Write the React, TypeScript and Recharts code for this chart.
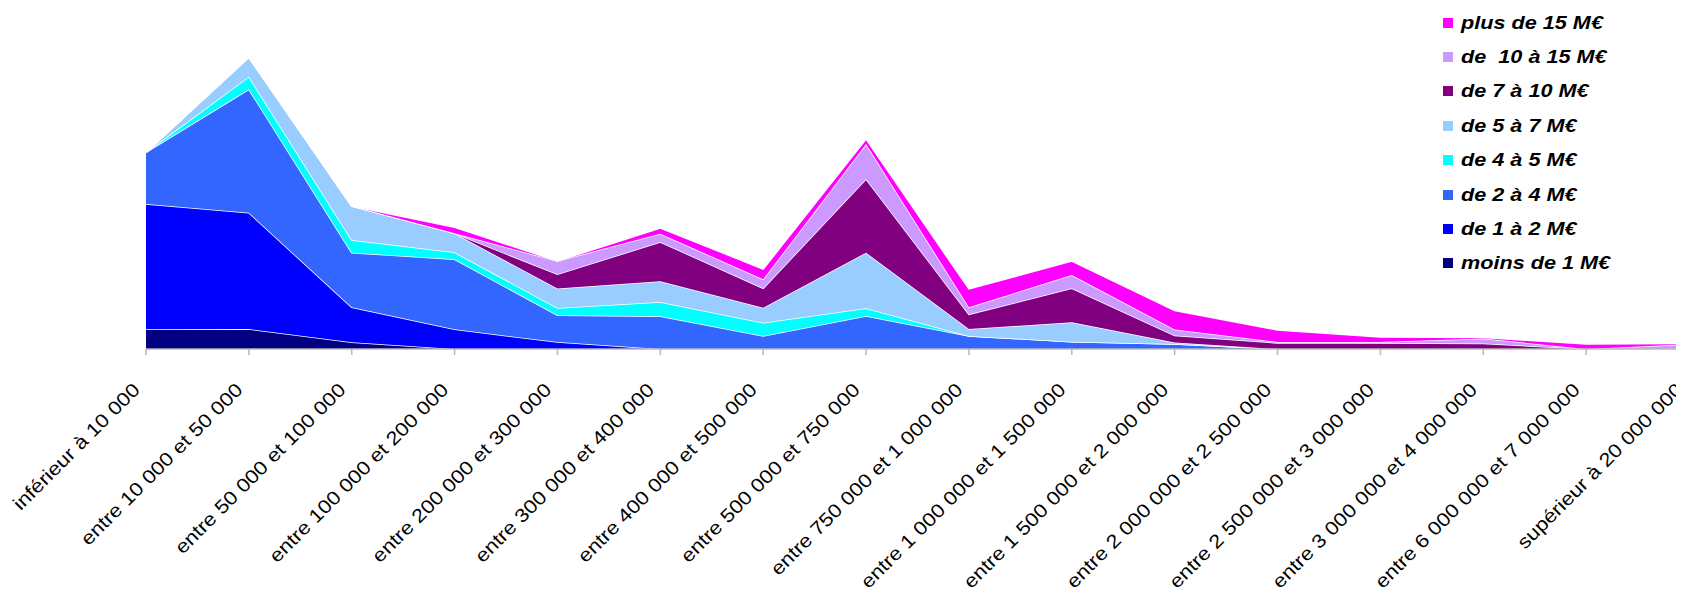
import React from 'react';
import { AreaChart, Area, XAxis, YAxis } from 'recharts';

const categories = [
  'inférieur à 10 000',
  'entre 10 000 et 50 000',
  'entre 50 000 et 100 000',
  'entre 100 000 et 200 000',
  'entre 200 000 et 300 000',
  'entre 300 000 et 400 000',
  'entre 400 000 et 500 000',
  'entre 500 000 et 750 000',
  'entre 750 000 et 1 000 000',
  'entre 1 000 000 et 1 500 000',
  'entre 1 500 000 et 2 000 000',
  'entre 2 000 000 et 2 500 000',
  'entre 2 500 000 et 3 000 000',
  'entre 3 000 000 et 4 000 000',
  'entre 6 000 000 et 7 000 000',
  'supérieur à 20 000 000',
];

// stacked from bottom to top
const moinsDe1 = [19.7, 20, 6.7, 0, 0, 0, 0, 0, 0, 0, 0, 0, 0, 0, 0, 0];
const de1a2 = [125.3, 116.3, 35, 19.7, 7, 0, 0, 0, 0, 0, 0, 0, 0, 0, 0, 0];
const de2a4 = [51.7, 123.4, 54.6, 70, 26.7, 32.7, 13, 33, 13, 7.3, 5, 0, 0, 0, 0, 0];
const de4a5 = [0, 12.6, 12.7, 7, 7.3, 14.3, 13.3, 7.7, 0, 0, 0, 0, 0, 0, 0, 0];
const de5a7 = [0, 19.4, 34, 19, 19.4, 20.7, 15, 55.6, 7, 19.4, 1.5, 0, 0, 0, 0, 0];
const de7a10 = [0, 0, 0, 0, 14.3, 39.3, 19.4, 73.7, 14.7, 34, 7, 6, 6, 5.5, 0, 0];
const de10a15 = [0, 0, 0, 0, 13.3, 8.3, 9, 35, 7, 13.3, 6, 1, 1, 5, 0, 5];
const plusDe15 = [0, 0, 0, 6, 0, 5.7, 10.3, 5, 18.3, 14, 19, 12, 5, 1, 5, 0.5];

const series = [
  { key: 's1', name: 'moins de 1 M€', color: '#000080', values: moinsDe1 },
  { key: 's2', name: 'de 1 à 2 M€', color: '#0000FF', values: de1a2 },
  { key: 's3', name: 'de 2 à 4 M€', color: '#3366FF', values: de2a4 },
  { key: 's4', name: 'de 4 à 5 M€', color: '#00FFFF', values: de4a5 },
  { key: 's5', name: 'de 5 à 7 M€', color: '#99CCFF', values: de5a7 },
  { key: 's6', name: 'de 7 à 10 M€', color: '#800080', values: de7a10 },
  { key: 's7', name: 'de  10 à 15 M€', color: '#CC99FF', values: de10a15 },
  { key: 's8', name: 'plus de 15 M€', color: '#FF00FF', values: plusDe15 },
];

const data = categories.map((name, i) => {
  const row: Record<string, string | number> = { name };
  series.forEach((s) => { row[s.key] = s.values[i]; });
  return row;
});

const font = '"Liberation Sans", Arial, sans-serif';

function RotatedTick(props: any) {
  const { x, y, payload } = props;
  return (
    <g transform={`translate(${x - 5},${y + 34})`}>
      <text
        transform="rotate(-45) scale(1.15,1)"
        textAnchor="end"
        fontFamily={font}
        fontSize={19}
        fill="#000"
      >
        {payload.value}
      </text>
    </g>
  );
}

export default function App() {
  const legendItems = [...series].reverse();
  return (
    <div style={{ position: 'relative', width: 1676, height: 581, overflow: 'hidden' }}>
      <AreaChart
        width={1700}
        height={581}
        data={data}
        margin={{ top: 41, right: 19, bottom: 10, left: 138 }}
      >
        <XAxis
          dataKey="name"
          interval={0}
          height={230}
          tickSize={6}
          stroke="#b8b8b8"
          strokeWidth={1.5}
          tick={<RotatedTick />}
        />
        <YAxis hide domain={[0, 300]} />
        {series.map((s) => (
          <Area
            key={s.key}
            type="linear"
            dataKey={s.key}
            name={s.name}
            stackId="1"
            fill={s.color}
            fillOpacity={1}
            stroke="#fff"
            strokeWidth={1.5}
            isAnimationActive={false}
          />
        ))}
      </AreaChart>
      <div style={{ position: 'absolute', left: 1435, top: -2.5, fontFamily: font }}>
        {legendItems.map((s) => (
          <div key={s.key} style={{ display: 'flex', alignItems: 'center', height: 34.4 }}>
            <span style={{ width: 10, height: 10, background: s.color, display: 'inline-block' }} />
            <span
              style={{
                marginLeft: 8,
                fontSize: 18.5,
                fontWeight: 'bold',
                fontStyle: 'italic',
                whiteSpace: 'pre',
                display: 'inline-block',
                transform: 'scaleX(1.17)',
                transformOrigin: 'left center',
              }}
            >
              {s.name}
            </span>
          </div>
        ))}
      </div>
    </div>
  );
}
